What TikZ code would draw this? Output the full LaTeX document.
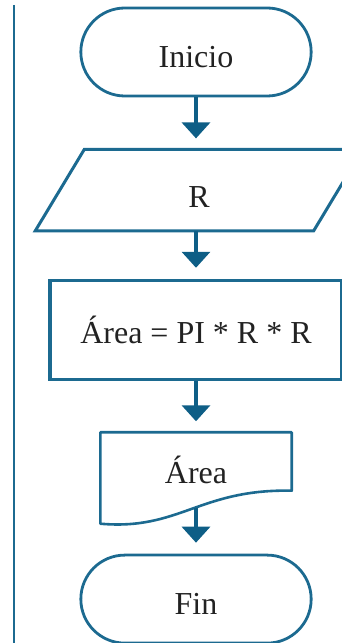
\documentclass[tikz,border=0pt]{standalone}
\usepackage{fontspec}
\setmainfont{Liberation Serif}
\usetikzlibrary{arrows.meta,positioning,shapes.geometric,shapes.misc}
\definecolor{flowBlue}{HTML}{1C6A90}
\definecolor{arrowBlue}{HTML}{0E5E86}
\definecolor{inkDark}{HTML}{222222}
\begin{document}
\begin{tikzpicture}[
      x=1pt, y=1pt,
      node distance=52pt,
      terminal/.style={rounded rectangle, draw=flowBlue, line width=2.8pt, minimum width=237pt, minimum height=88pt, text height=31pt, text=inkDark, font=\fontsize{32}{36}\selectfont},
      inputbox/.style={rectangle, minimum width=278pt, minimum height=81pt, text height=34pt, text=inkDark, font=\fontsize{32}{36}\selectfont},
      inputline/.style={draw=flowBlue, line width=3pt, line join=miter},
      procbox/.style={rectangle, draw=flowBlue, line width=3.5pt, minimum width=292pt, minimum height=99pt, text=inkDark, font=\fontsize{32}{36}\selectfont},
      docbox/.style={rectangle, minimum width=191pt, minimum height=91pt, text depth=16pt, text=inkDark, font=\fontsize{32}{36}\selectfont},
      docline/.style={draw=flowBlue, line width=2.6pt, line join=round},
      arrow/.style={-{Triangle[width=28pt,length=16pt]}, line width=3.5pt, draw=arrowBlue, shorten >=11pt}
    ]
      \useasboundingbox (0,0) rectangle (342,643);
      \clip (0,0) rectangle (342,643);
      % margin rule
      \coordinate (railtop) at (14,638);
      \coordinate (railbot) at (14,0);
      \draw[flowBlue, line width=2pt] (railtop) -- (railbot);
      \node[terminal] (inicio) at (196,591) {Inicio};
      \node[inputbox, below=52pt of inicio, xshift=3pt] (radio) {R};
      \draw[inputline] ([xshift=-24.5pt]radio.south west) -- ([xshift=24.5pt]radio.north west)
        -- ([xshift=24.5pt]radio.north east) -- ([xshift=-24.5pt]radio.south east) -- cycle;
      \node[procbox, below=48pt of radio, xshift=-3pt] (calc) {Área = PI * R * R};
      \node[docbox, below=51pt of calc] (salida) {Área};
      \draw[docline] (salida.south west) -- (salida.north west) -- (salida.north east) -- ([yshift=33pt]salida.south east)
        .. controls +(-92pt,2pt) and +(79pt,-7pt) .. coordinate[pos=0.48] (wavemid) (salida.south west) -- cycle;
      \node[terminal, below=30pt of salida] (fin) {Fin};
      \draw[arrow] (inicio.south) -- (inicio.south |- radio.north);
      \draw[arrow] (calc.north |- radio.south) -- (calc.north);
      \draw[arrow] (calc) -- (salida);
      \draw[arrow] (wavemid -| fin.north) -- (fin.north);
    \end{tikzpicture}
\end{document}
